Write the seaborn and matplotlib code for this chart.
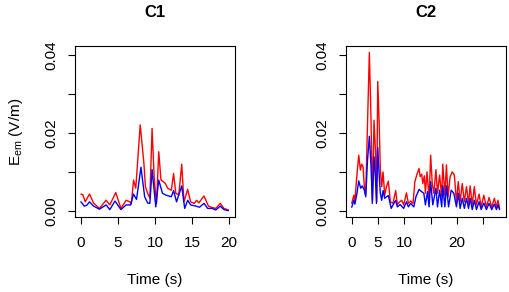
import numpy as np
import pandas as pd
import seaborn as sns
import matplotlib
matplotlib.use("Agg")
import matplotlib.pyplot as plt

# ---- data ----
t1_red = [0, 0.27, 0.58, 1.16, 1.7, 2.5, 3.4, 3.9, 4.7, 5.4, 6.1, 6.6, 6.8, 7.1, 7.4, 8.0, 8.5, 8.7, 9.0, 9.3,
          9.6, 9.9, 10.2, 10.5, 10.8, 11.1, 11.4, 11.7, 12.2, 12.5, 12.8, 13.2, 13.6, 13.9, 14.4, 14.8, 15.3,
          15.6, 15.9, 16.6, 17.2, 17.6, 18.2, 18.8, 19.3, 19.9]
v1_red = [0.0043, 0.0041, 0.0023, 0.0043, 0.0020, 0.0006, 0.0027, 0.0015, 0.0047, 0.0006, 0.0027, 0.0023,
          0.0017, 0.0079, 0.0058, 0.0221, 0.0122, 0.0062, 0.0045, 0.0032, 0.0212, 0.0079, 0.0019, 0.0152,
          0.0079, 0.0075, 0.0070, 0.0058, 0.0053, 0.0096, 0.0045, 0.0040, 0.0120, 0.0023, 0.0055, 0.0023,
          0.0019, 0.0027, 0.0020, 0.0038, 0.0012, 0.0009, 0.0006, 0.0019, 0.0006, 0.0002]
t1_blue = [0, 0.45, 0.8, 1.16, 1.7, 2.5, 3.4, 3.9, 4.6, 5.4, 6.1, 6.7, 7.1, 7.5, 8.1, 8.6, 9.0, 9.3, 9.6,
           10.1, 10.5, 11.0, 11.5, 12.2, 12.5, 12.9, 13.6, 14.0, 14.4, 14.8, 15.5, 16.0, 16.6, 17.1, 17.7,
           18.2, 18.8, 19.3, 19.9]
v1_blue = [0.0023, 0.0012, 0.0014, 0.0023, 0.0012, 0.0004, 0.0015, 0.0003, 0.0025, 0.0003, 0.0015, 0.0015,
           0.0043, 0.0029, 0.0112, 0.0036, 0.0020, 0.0019, 0.0106, 0.0010, 0.0079, 0.0045, 0.0040, 0.0036,
           0.0052, 0.0023, 0.0064, 0.0006, 0.0027, 0.0015, 0.0012, 0.0009, 0.0019, 0.0006, 0.0006, 0.0002,
           0.0012, 0.0003, 0.0000]

t2_red = [0, 0.4, 0.6, 0.9, 1.33, 1.65, 1.9, 2.15, 2.4, 2.66, 2.97, 3.35, 3.67, 3.92, 4.24, 4.5, 4.75, 4.94,
          5.2, 5.44, 5.7, 5.95, 6.27, 6.6, 6.96, 7.34, 7.85, 8.35, 8.67, 9.1, 9.5, 9.87, 10.4, 10.76, 11.2,
          11.65, 12.0, 12.4, 12.8, 13.0, 13.3, 13.5, 13.8, 14.0, 14.3, 14.7, 15.0, 15.3, 15.6, 16.0, 16.3,
          16.7, 17.1, 17.3, 17.7, 18.0, 18.3, 18.7, 19.1, 19.5, 19.9, 20.25, 20.6, 21.0, 21.4, 21.8, 22.2,
          22.5, 22.9, 23.3, 23.7, 24.2, 24.6, 25.1, 25.6, 26.1, 26.6, 27.1, 27.5, 27.8, 28.1]
v2_red = [0.0019, 0.0040, 0.0023, 0.0079, 0.0143, 0.0105, 0.0120, 0.0113, 0.0062, 0.0040, 0.0208, 0.0408,
          0.0233, 0.0027, 0.0233, 0.0156, 0.0023, 0.0333, 0.0233, 0.0105, 0.0062, 0.0100, 0.0040, 0.0062,
          0.0076, 0.0023, 0.0019, 0.0052, 0.0016, 0.0023, 0.0027, 0.0015, 0.0046, 0.0019, 0.0025, 0.0019,
          0.0075, 0.0094, 0.0109, 0.0088, 0.0094, 0.0070, 0.0090, 0.0045, 0.0100, 0.0032, 0.0143, 0.0070,
          0.0045, 0.0106, 0.0045, 0.0092, 0.0036, 0.0120, 0.0040, 0.0118, 0.0036, 0.0088, 0.0100, 0.0092,
          0.0023, 0.0075, 0.0023, 0.0070, 0.0023, 0.0062, 0.0019, 0.0064, 0.0015, 0.0062, 0.0015, 0.0043,
          0.0010, 0.0040, 0.0010, 0.0034, 0.0009, 0.0032, 0.0009, 0.0027, 0.0006]
t2_blue = [0, 0.4, 0.6, 1.0, 1.33, 1.7, 2.0, 2.4, 2.66, 3.0, 3.35, 3.67, 3.92, 4.24, 4.5, 4.7, 4.94, 5.2,
           5.44, 5.7, 5.95, 6.27, 6.6, 6.96, 7.5, 7.85, 8.35, 8.67, 9.2, 9.87, 10.4, 10.76, 11.2, 11.8, 12.2,
           12.8, 13.3, 13.7, 14.0, 14.4, 14.7, 15.0, 15.4, 16.0, 16.3, 16.7, 17.1, 17.3, 17.7, 18.0, 18.4,
           18.9, 19.4, 19.9, 20.25, 20.6, 21.0, 21.4, 21.8, 22.2, 22.5, 22.9, 23.3, 23.7, 24.2, 24.6, 25.1,
           25.6, 26.1, 26.6, 27.1, 27.5, 27.8, 28.1]
v2_blue = [0.0009, 0.0027, 0.0017, 0.0045, 0.0077, 0.0058, 0.0064, 0.0053, 0.0036, 0.0130, 0.0192, 0.0113,
           0.0019, 0.0139, 0.0088, 0.0019, 0.0163, 0.0096, 0.0045, 0.0027, 0.0052, 0.0032, 0.0036, 0.0039,
           0.0006, 0.0015, 0.0027, 0.0010, 0.0016, 0.0006, 0.0023, 0.0010, 0.0019, 0.0010, 0.0036, 0.0055,
           0.0049, 0.0045, 0.0015, 0.0049, 0.0010, 0.0075, 0.0015, 0.0058, 0.0010, 0.0053, 0.0010, 0.0064,
           0.0010, 0.0064, 0.0010, 0.0053, 0.0045, 0.0010, 0.0045, 0.0006, 0.0032, 0.0006, 0.0032, 0.0006,
           0.0032, 0.0003, 0.0027, 0.0003, 0.0023, 0.0003, 0.0020, 0.0003, 0.0019, 0.0003, 0.0017, 0.0003,
           0.0015, 0.0003]

titles = ["C1", "C2"]
y_ticks = [0.0, 0.01, 0.02, 0.03, 0.04]
y_ticklabels = ["0.00", "", "0.02", "", "0.04"]
x_ticks = [[0, 5, 10, 15, 20], [0, 5, 10, 15, 20, 25]]
x_ticklabels = [["0", "5", "10", "15", "20"], ["0", "5", "10", "", "20", ""]]

sns.set_theme(style="ticks")
plt.rcParams["font.family"] = ["Liberation Sans", "DejaVu Sans"]
plt.rcParams.update({"text.color": "black", "axes.labelcolor": "black",
                     "xtick.color": "black", "ytick.color": "black"})

fig = plt.figure(figsize=(5.10, 2.92), dpi=100)
ax1 = fig.add_axes([0.147, 0.257, 0.314, 0.585])
ax2 = fig.add_axes([0.678, 0.257, 0.314, 0.585])

panels = [
    (ax1, t1_red, v1_red, t1_blue, v1_blue, (-0.8, 20.8)),
    (ax2, t2_red, v2_red, t2_blue, v2_blue, (-1.13, 29.3)),
]
for i, (ax, tr, vr, tb, vb, xl) in enumerate(panels):
    dr = pd.DataFrame({"t": tr, "v": vr})
    db = pd.DataFrame({"t": tb, "v": vb})
    sns.lineplot(data=dr, x="t", y="v", ax=ax, color="#ff0000", lw=1.0, estimator=None, sort=False)
    sns.lineplot(data=db, x="t", y="v", ax=ax, color="#0000ff", lw=1.0, estimator=None, sort=False)
    ax.set_xlim(*xl)
    ax.set_ylim(-0.0016, 0.0424)
    ax.set_yticks(y_ticks)
    ax.set_yticklabels(y_ticklabels, rotation=90, va="center", fontsize=11)
    ax.set_xticks(x_ticks[i])
    ax.set_xticklabels(x_ticklabels[i], fontsize=11)
    ax.tick_params(axis="x", direction="out", length=5, width=0.8, color="black", pad=9)
    ax.tick_params(axis="y", direction="out", length=5, width=0.8, color="black", pad=7)
    for s in ax.spines.values():
        s.set_visible(True)
        s.set_color("black")
        s.set_linewidth(0.8)
    ax.set_title(titles[i], fontsize=12, fontweight="bold", pad=21)
    ax.set_xlabel("Time (s)", fontsize=11, labelpad=16)
    ax.set_ylabel("")

ax1.set_ylabel(r"E$_\mathregular{em}$ (V/m)", fontsize=11, labelpad=14)

fig.savefig("out.png", dpi=100)
